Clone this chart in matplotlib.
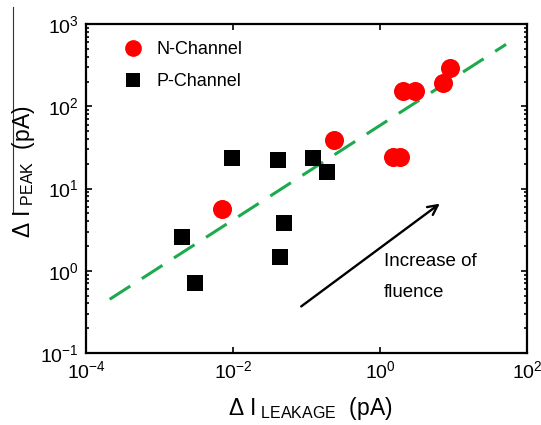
import matplotlib
matplotlib.use("Agg")
import matplotlib.pyplot as plt
from matplotlib.lines import Line2D
from matplotlib.ticker import LogLocator, NullLocator, LogFormatterSciNotation, FixedLocator

plt.rcParams['font.family'] = ['Liberation Sans', 'DejaVu Sans']
plt.rcParams['mathtext.fontset'] = 'custom'
plt.rcParams['mathtext.rm'] = 'Liberation Sans'
plt.rcParams['mathtext.it'] = 'Liberation Sans:italic'
plt.rcParams['mathtext.bf'] = 'Liberation Sans:bold'
plt.rcParams['mathtext.sf'] = 'Liberation Sans'

# ---- data ----
n_leak = [0.0071, 0.24, 1.5, 1.86, 2.06, 3.0, 7.2, 8.95]
n_peak = [5.6, 39, 24, 24, 153, 153, 190, 292]
p_leak = [0.0097, 0.041, 0.122, 0.19, 0.0020, 0.0030, 0.049, 0.043]
p_peak = [23.5, 22.4, 23.5, 15.7, 2.6, 0.70, 3.8, 1.48]
fit_x = [2.1e-4, 51.8]
fit_y = [0.45, 566]
arrow_start = (0.079, 0.352)
arrow_end = (6.98, 6.86)
labels = ['N-Channel', 'P-Channel']

fig = plt.figure(figsize=(5.41, 4.25), dpi=100)
ax = fig.add_axes([0.159, 0.1694, 0.8152, 0.7741])
ax.set_xscale('log')
ax.set_yscale('log')
ax.set_xlim(1e-4, 1e2)
ax.set_ylim(1e-1, 1e3)

ax.plot(fit_x, fit_y, color='#1daa4e', lw=2.2, dashes=(8, 4.5), zorder=2)
hn, = ax.plot(n_leak, n_peak, 'o', color='#ff0000', markersize=13.7, markeredgewidth=0,
              linestyle='none', zorder=3, label=labels[0])
hp, = ax.plot(p_leak, p_peak, 's', color='black', markersize=11.5, markeredgewidth=0,
              linestyle='none', zorder=3, label=labels[1])

ax.annotate('', xy=arrow_end, xytext=arrow_start,
            arrowprops=dict(arrowstyle='->,head_length=0.7,head_width=0.35', color='black', lw=1.7))
ax.text(1.13, 1.31, 'Increase of', fontsize=13.5, va='center', ha='left')
ax.text(1.13, 0.545, 'fluence', fontsize=13.5, va='center', ha='left')

leg = ax.legend(handles=[hn, hp], loc='upper left', bbox_to_anchor=(0.087, 0.948),
                frameon=False, fontsize=13, borderaxespad=0, borderpad=0,
                handlelength=1.0, handletextpad=0.78, labelspacing=0.85, markerscale=0.88)

ax.xaxis.set_major_locator(FixedLocator([1e-4, 1e-2, 1e0, 1e2]))
ax.xaxis.set_major_formatter(LogFormatterSciNotation())
ax.xaxis.set_minor_locator(NullLocator())
ax.yaxis.set_major_locator(FixedLocator([1e-1, 1e0, 1e1, 1e2, 1e3]))
ax.yaxis.set_major_formatter(LogFormatterSciNotation())
ax.yaxis.set_minor_locator(LogLocator(base=10, subs=range(2, 10), numticks=20))

ax.tick_params(which='both', direction='in', top=True, right=True, labelsize=14, width=1.2)
ax.tick_params(which='major', length=4, pad=5)
ax.tick_params(which='minor', length=2.5)
for s in ax.spines.values():
    s.set_linewidth(1.6)

fig.text(0.573, 0.038, r'$\Delta\ \mathrm{I}_{\ \mathrm{LEAKAGE}}\ \ (\mathrm{pA})$',
         fontsize=16.5, ha='center', va='center')
fig.text(0.043, 0.595, r'$\Delta\ \mathrm{I}_{\ \mathrm{PEAK}}\ \ (\mathrm{pA})$',
         fontsize=16.5, ha='center', va='center', rotation=90)
fig.add_artist(Line2D([0.024, 0.024], [0.984, 0.499], transform=fig.transFigure,
                      color='#333333', lw=0.8))

fig.savefig('out.png', dpi=100)
